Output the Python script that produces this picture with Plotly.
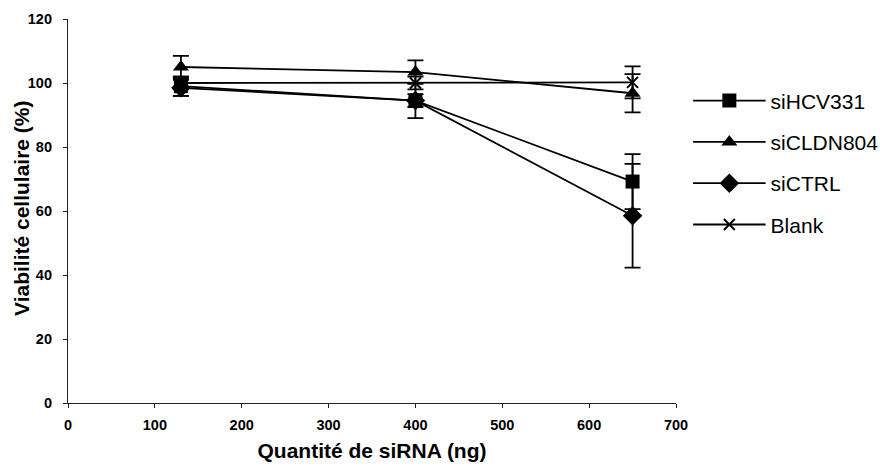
import plotly.graph_objects as go

quantities = [130, 400, 650]

series_names = ["siHCV331", "siCLDN804", "siCTRL", "Blank"]
hcv331 = [99.0, 94.5, 69.2]
hcv331_err = [3.0, 5.5, 8.6]
cldn804 = [105.0, 103.4, 96.8]
cldn804_err = [3.5, 3.7, 6.0]
ctrl = [98.5, 94.5, 58.5]
ctrl_err = [2.5, 2.0, 16.2]
blank = [100.0, 100.0, 100.2]
blank_err = [2.0, 2.0, 5.0]

x_ticks = [0, 100, 200, 300, 400, 500, 600, 700]
y_ticks = [0, 20, 40, 60, 80, 100, 120]

values = [hcv331, cldn804, ctrl, blank]
errors = [hcv331_err, cldn804_err, ctrl_err, blank_err]
symbols = ["square", "triangle-up", "diamond", "x-thin"]
sizes = [14, 14, 15, 11]

fig = go.Figure()
for i, (name, v, e) in enumerate(zip(series_names, values, errors)):
    fig.add_trace(go.Scatter(
        x=quantities, y=v, name=name, mode="lines+markers",
        legendgroup=name,
        line=dict(color="black", width=1.8),
        marker=dict(symbol=symbols[i], size=sizes[i], color="black",
                    line=dict(color="black", width=2 if symbols[i] == "x-thin" else 0)),
        error_y=dict(type="data", array=e, visible=True, color="black",
                     thickness=1.8, width=8),
    ))

font_family = "Liberation Sans, Arial, sans-serif"
fig.update_layout(
    width=880, height=469,
    margin=dict(l=68, r=204, t=19, b=66, autoexpand=False),
    paper_bgcolor="white", plot_bgcolor="white",
    font=dict(family=font_family, color="black"),
    showlegend=True,
    legend=dict(x=1.0199, y=0.840, xanchor="left", yanchor="top",
                font=dict(size=21, family=font_family),
                itemwidth=72.5, tracegroupgap=11,
                bgcolor="rgba(0,0,0,0)"),
    xaxis=dict(range=[0, 700], tickvals=x_ticks, ticktext=[str(t) for t in x_ticks],
               showgrid=False, zeroline=False, showline=True, linecolor="#222",
               linewidth=1.2, ticks="outside", ticklen=4, tickcolor="#222",
               ticklabelstandoff=4, automargin=False,
               tickfont=dict(size=14.5, family=font_family, weight="bold"),
               title=dict(text="<b>Quantité de siRNA (ng)</b>", font=dict(size=21), standoff=11)),
    yaxis=dict(range=[0, 120], tickvals=y_ticks, ticktext=[str(t) for t in y_ticks],
               showgrid=False, zeroline=False, showline=True, linecolor="#222",
               linewidth=1.2, ticks="outside", ticklen=4, tickcolor="#222",
               ticklabelstandoff=8, automargin=False,
               tickfont=dict(size=14.5, family=font_family, weight="bold")),
    annotations=[dict(text="<b>Viabilité cellulaire (%)</b>", textangle=-90,
                      xref="paper", yref="paper", x=0, y=0.5,
                      xanchor="center", yanchor="middle", xshift=-47, yshift=3,
                      showarrow=False, font=dict(size=21, family=font_family))],
)

fig.write_html("out.html",
               config={"displayModeBar": False},
               post_script="document.body.style.margin='0';document.body.style.overflow='hidden';")
